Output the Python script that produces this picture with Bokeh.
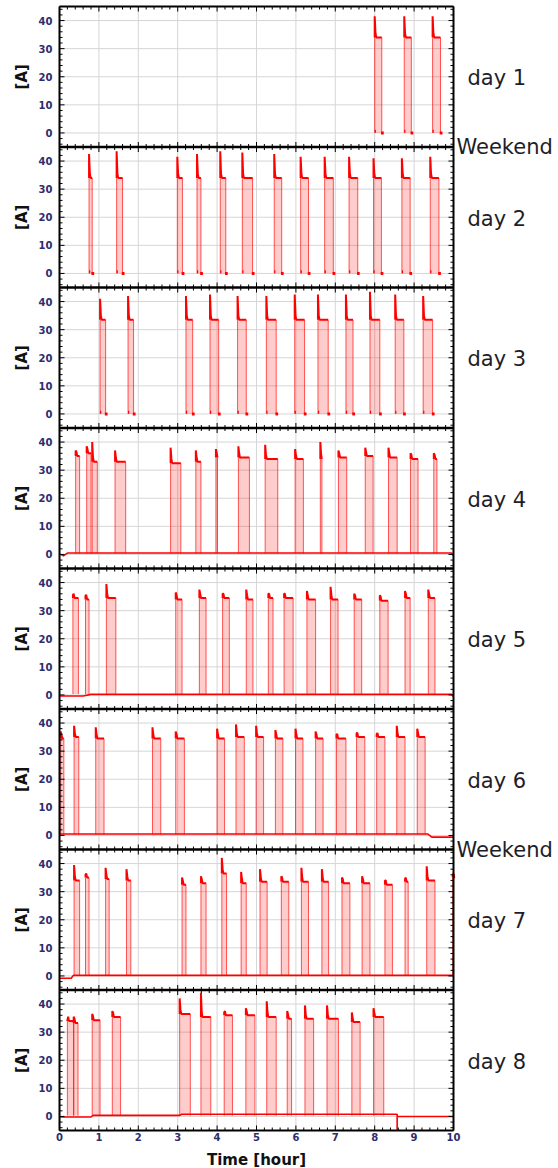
import numpy as np
from bokeh.plotting import figure
from bokeh.models import Range1d
from bokeh.core.properties import value
from bokeh.embed import file_html
from bokeh.resources import INLINE

# ---------------- data ----------------
day_names = ["day 1", "day 2", "day 3", "day 4", "day 5", "day 6", "day 7", "day 8"]
weekend_after = [0, 5]          # "Weekend" between day1/day2 and day6/day7
x_ticks = [0, 1, 2, 3, 4, 5, 6, 7, 8, 9, 10]
y_ticks = [0, 10, 20, 30, 40]

d1_start = [8.00, 8.75, 9.47]
d1_end = [8.18, 8.93, 9.67]
d1_peak = [41.5, 41.5, 41.5]
d1_plat = [34, 34, 34]

d2_start = [0.75, 1.45, 2.99, 3.49, 4.08, 4.64, 5.45, 6.12, 6.73, 7.35, 7.97, 8.69, 9.41]
d2_end = [0.83, 1.60, 3.12, 3.59, 4.22, 4.90, 5.64, 6.32, 6.95, 7.57, 8.17, 8.90, 9.63]
d2_peak = [42.5, 43.5, 41.5, 42.5, 43.5, 43, 42.5, 41.5, 41.5, 41.5, 41, 41, 41.5]
d2_plat = [34, 34, 34, 34, 34, 34, 34, 34, 34, 34, 34, 34, 34]

d3_start = [1.03, 1.74, 3.21, 3.82, 4.52, 5.25, 5.97, 6.56, 7.27, 7.88, 8.52, 9.23]
d3_end = [1.17, 1.88, 3.38, 4.04, 4.74, 5.50, 6.22, 6.82, 7.45, 8.13, 8.74, 9.47]
d3_peak = [41, 42, 42, 42.5, 42, 42, 42.5, 42.5, 42.5, 43.5, 42.5, 42]
d3_plat = [33.5, 33.5, 33.5, 33.5, 33.5, 33.5, 33.5, 33.5, 33.5, 33.5, 33.5, 33.5]

d4_start = [0.41, 0.69, 0.83, 1.41, 2.82, 3.46, 3.97, 4.54, 5.22, 5.98, 6.62, 7.08, 7.76, 8.35, 8.91, 9.50]
d4_end = [0.51, 0.80, 0.96, 1.68, 3.08, 3.59, 4.01, 4.82, 5.54, 6.19, 6.66, 7.29, 7.96, 8.57, 9.10, 9.58]
d4_peak = [37, 38.5, 40, 37, 38, 37, 37.5, 38.5, 39, 37.5, 40, 37, 38, 38, 36, 36]
d4_plat = [35, 36, 33, 33, 32.5, 33, 34.5, 34.5, 34, 34, 34, 34.5, 35, 34.5, 34, 34]
d4_base_x = [0, 0.1, 0.2, 9.95, 10.0]
d4_base_y = [0.2, -0.5, 0.5, 0.5, -0.5]

d5_start = [0.34, 0.66, 1.19, 2.95, 3.55, 4.14, 4.74, 5.30, 5.70, 6.28, 6.88, 7.48, 8.13, 8.77, 9.36]
d5_end = [0.48, 0.75, 1.43, 3.11, 3.72, 4.31, 4.91, 5.42, 5.93, 6.50, 7.07, 7.67, 8.34, 8.90, 9.53]
d5_peak = [35.5, 35.5, 39.5, 36.5, 37.5, 36, 37.5, 36, 36, 37, 38.5, 36, 35.5, 37, 37.5]
d5_plat = [34.5, 34, 34.5, 34, 34.5, 34.5, 34, 34.5, 34.5, 34, 34, 34, 33.5, 34.5, 34.5]
d5_base_x = [0, 0.6, 0.8, 9.95, 10.0]
d5_base_y = [-0.4, -0.4, 0.2, 0.2, -0.6]

d6_start = [0.03, 0.37, 0.92, 2.36, 2.95, 4.00, 4.48, 4.99, 5.48, 5.99, 6.50, 7.03, 7.54, 8.05, 8.56, 9.08]
d6_end = [0.11, 0.49, 1.13, 2.57, 3.17, 4.19, 4.69, 5.18, 5.67, 6.18, 6.69, 7.27, 7.75, 8.26, 8.77, 9.28]
d6_peak = [37, 39, 38.5, 38.5, 37, 38, 39.5, 39, 37.5, 38, 37, 36, 36.5, 36, 39, 38]
d6_plat = [34.5, 35, 34.5, 34.5, 34.5, 34.5, 35, 35, 34.5, 34.5, 34.5, 34.5, 35, 35, 35, 35]
d6_base_x = [0, 9.35, 9.45, 10.0]
d6_base_y = [0.5, 0.5, -0.6, -0.6]

d7_start = [0.37, 0.66, 1.17, 1.70, 3.11, 3.59, 4.12, 4.61, 5.09, 5.63, 6.14, 6.66, 7.17, 7.68, 8.26, 8.77, 9.32, 9.98]
d7_end = [0.51, 0.75, 1.26, 1.81, 3.21, 3.72, 4.24, 4.74, 5.27, 5.82, 6.32, 6.83, 7.37, 7.88, 8.45, 8.85, 9.53, 10.0]
d7_peak = [39.5, 36, 38.5, 38, 35, 35.5, 42, 37, 38, 35.5, 38.5, 38, 35, 35.5, 34, 34.5, 39, 35.5]
d7_plat = [34, 35, 34.5, 34, 32.5, 33, 36.5, 33, 33.5, 33.5, 33.5, 33.5, 33, 33, 32.5, 33.5, 34, 35]
d7_base_x = [0, 0.3, 0.35, 10.0]
d7_base_y = [-0.8, -0.8, 0.2, 0.2]

d8_start = [0.20, 0.36, 0.83, 1.34, 3.05, 3.59, 4.18, 4.73, 5.26, 5.78, 6.23, 6.79, 7.42, 7.97]
d8_end = [0.36, 0.47, 1.03, 1.55, 3.32, 3.84, 4.39, 4.96, 5.50, 5.89, 6.45, 7.08, 7.63, 8.23]
d8_peak = [34.2, 35.5, 36.5, 37.5, 42, 44, 37, 38.5, 41, 37.5, 39.5, 39.5, 37, 38.5]
d8_plat = [34, 33.3, 34.2, 35.4, 36.5, 35.4, 36, 36, 35.4, 34.8, 34.8, 34.8, 33.6, 35.4]
d8_base_x = [0, 0.8, 0.85, 3.05, 3.1, 8.57, 8.57, 8.57, 10.0]
d8_base_y = [-0.2, -0.2, 0.4, 0.4, 0.8, 0.8, -5.0, 0.0, 0.0]

starts = [d1_start, d2_start, d3_start, d4_start, d5_start, d6_start, d7_start, d8_start]
ends = [d1_end, d2_end, d3_end, d4_end, d5_end, d6_end, d7_end, d8_end]
peaks = [d1_peak, d2_peak, d3_peak, d4_peak, d5_peak, d6_peak, d7_peak, d8_peak]
plats = [d1_plat, d2_plat, d3_plat, d4_plat, d5_plat, d6_plat, d7_plat, d8_plat]
bases_x = [None, None, None, d4_base_x, d5_base_x, d6_base_x, d7_base_x, d8_base_x]
bases_y = [None, None, None, d4_base_y, d5_base_y, d6_base_y, d7_base_y, d8_base_y]

# ---------------- layout (pixel geometry of the panels) ----------------
W, H = 558, 1168
LEFT_PX, RIGHT_PX, TOP_PX, BOTTOM_PX = 59, 453, 6, 1130
N = len(day_names)
SPAN = 50.0          # data units per panel
LO, HI = -5.0, 45.0  # panel range
RED = "#ff0000"
FONT = value("DejaVu Sans")

PXX = (RIGHT_PX - LEFT_PX) / 10.0
PXY = (BOTTOM_PX - TOP_PX) / (N * SPAN)
Y_BOT = LO
Y_TOP = LO + N * SPAN

p = figure(width=W, height=H,
           x_range=Range1d(-LEFT_PX / PXX, 10 + (W - RIGHT_PX) / PXX),
           y_range=Range1d(Y_BOT - (H - BOTTOM_PX) / PXY, Y_TOP + TOP_PX / PXY),
           output_backend="svg", toolbar_location=None, min_border=0)
p.axis.visible = False
p.grid.visible = False
p.outline_line_color = None
p.background_fill_color = "white"
p.border_fill_color = "white"

offsets = [(N - 1 - k) * SPAN for k in range(N)]

# grid lines
gx0 = [float(x) for x in x_ticks]
p.segment(x0=gx0, y0=Y_BOT, x1=gx0, y1=Y_TOP, line_color="#d6d6d6", line_width=1)
gy = [o + v for o in offsets for v in y_ticks]
p.segment(x0=0, y0=gy, x1=10, y1=gy, line_color="#d6d6d6", line_width=1)

# data
for k in range(N):
    o = offsets[k]
    s = np.array(starts[k]); e = np.array(ends[k])
    pk = np.array(peaks[k]); pl = np.array(plats[k])
    base = 0.0 if bases_x[k] is None else 0.3
    p.quad(left=s, right=e, bottom=o + base, top=o + pl,
           fill_color=RED, fill_alpha=0.2, line_color=None)
    p.segment(x0=np.concatenate([s, e]), y0=o + base,
              x1=np.concatenate([s, e]), y1=o + np.concatenate([pl, pl]),
              line_color=RED, line_alpha=0.65, line_width=1)
    xs = [[a, a, a + 0.02, a + 0.04, b] for a, b in zip(s, e)]
    ys = [[o + q, o + h, o + q + 1.5, o + q, o + q] for h, q in zip(pk, pl)]
    p.multi_line(xs=xs, ys=ys, line_color=RED, line_width=2)
    if bases_x[k] is None:
        p.segment(x0=s, y0=o + 0.6, x1=s + 0.03, y1=o + 0.6,
                  line_color=RED, line_width=3)
        p.segment(x0=e - 0.02, y0=o, x1=e + 0.05, y1=o,
                  line_color=RED, line_width=3)
    else:
        p.line(x=bases_x[k], y=[max(o + v, o + LO) for v in bases_y[k]],
               line_color=RED, line_width=1.6)

# frame ticks (inward) on every panel edge
minor_x = [round(v, 2) for v in np.arange(0, 10.001, 0.2)]
tx0, ty0, tx1, ty1 = [], [], [], []
for k in range(N):
    o = offsets[k]
    for edge, sign in ((o + LO, 1), (o + HI, -1)):
        for xv in minor_x:
            ln = (5 if abs(xv - round(xv)) < 1e-6 else 3) / PXY
            tx0.append(xv); tx1.append(xv)
            ty0.append(edge); ty1.append(edge + sign * ln)
    for yv in np.arange(-4, 45, 2):
        ln = (5 if yv % 10 == 0 else 3) / PXX
        tx0 += [0, 10]; tx1 += [ln, 10 - ln]
        ty0 += [o + yv, o + yv]; ty1 += [o + yv, o + yv]
p.segment(x0=tx0, y0=ty0, x1=tx1, y1=ty1, line_color="black", line_width=1)

# panel frame and separators
p.segment(x0=[0, 10], y0=Y_BOT, x1=[0, 10], y1=Y_TOP, line_color="black", line_width=2)
p.segment(x0=0, y0=[Y_BOT, Y_TOP], x1=10, y1=[Y_BOT, Y_TOP], line_color="black", line_width=2)
sep = [o + HI for o in offsets[1:]]
p.segment(x0=0, y0=sep, x1=10, y1=sep, line_color="black", line_width=2.5)

# tick labels
yl_y = [o + v for o in offsets for v in y_ticks]
yl_t = [str(v) for o in offsets for v in y_ticks]
p.text(x=-7 / PXX, y=yl_y, text=yl_t, text_font=FONT, text_font_size="10px",
       text_font_style="bold", text_color="#2d2d6e",
       text_align="right", text_baseline="middle")
p.text(x=[float(x) for x in x_ticks], y=Y_BOT - 2 / PXY, text=[str(x) for x in x_ticks],
       text_font=FONT, text_font_size="10px", text_font_style="bold",
       text_color="#2d2d6e", text_align="center", text_baseline="top")
p.text(x=[5.0], y=[Y_BOT - 20 / PXY], text=["Time [hour]"], text_font=FONT,
       text_font_size="15px", text_font_style="bold", text_color="#111111",
       text_align="center", text_baseline="top")

# panel texts
p.text(x=-38 / PXX, y=[o + 20 for o in offsets], text=["[A]"] * N, angle=np.pi / 2,
       text_font=FONT, text_font_size="15px", text_font_style="bold",
       text_color="#111111", text_align="center", text_baseline="middle")
p.text(x=10 + 14 / PXX, y=[o + 19.5 for o in offsets], text=day_names,
       text_font=FONT, text_font_size="21px", text_color="#1e1e28",
       text_align="left", text_baseline="middle")
p.text(x=10 + 3 / PXX, y=[offsets[k] + LO for k in weekend_after],
       text=["Weekend"] * len(weekend_after),
       text_font=FONT, text_font_size="21px", text_color="#1e1e28",
       text_align="left", text_baseline="middle")

open("out.html", "w").write(file_html(p, INLINE))
